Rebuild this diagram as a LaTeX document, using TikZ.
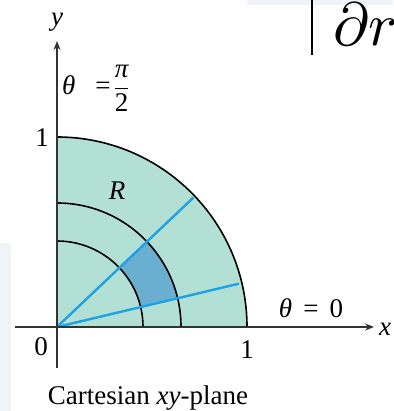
\documentclass[tikz,border=0pt]{standalone}
\usepackage{fontspec}
\setmainfont{Liberation Serif}
\usetikzlibrary{arrows.meta}
\definecolor{regfill}{HTML}{B3E0D4}
\definecolor{patchfill}{HTML}{6BAFD0}
\definecolor{rayblue}{HTML}{1DA2E6}
\definecolor{axisgray}{HTML}{333333}
\definecolor{bandgray}{HTML}{F0F3F7}
\tikzset{
  axisline/.style={draw=axisgray, line width=1.7pt, -{Stealth[length=9pt,width=7pt,inset=3pt]}},
  arcline/.style={draw=black, line width=1.6pt},
  ray/.style={draw=rayblue, line width=2.4pt},
  lbl/.style={font=\fontsize{27}{31}\selectfont, inner sep=0pt},
  ilbl/.style={font=\fontsize{27}{31}\selectfont\itshape, inner sep=0pt},
}
\begin{document}
\begin{tikzpicture}[x=1pt,y=1pt]
\useasboundingbox (0,0) rectangle (393,411);
% background fragments
\fill[bandgray] (0,0) rectangle (11,168);
\fill[bandgray] (247,406) rectangle (393,411);
\coordinate (bartop) at (312,411);
\coordinate (barbot) at (312,356);
\draw[line width=2pt] (bartop) -- (barbot);
\begin{scope}
\clip (0,0) rectangle (393,411);
\node[anchor=base west, inner sep=0pt, scale=6.1] (dr) at (332,365) {$\partial r$};
\end{scope}
% region
\begin{scope}[shift={(57,84)}]
\coordinate (O) at (0,0);
\fill[regfill] (O) -- (190,0) arc[start angle=0,end angle=90,radius=190] -- cycle;
\fill[patchfill] (13.4:86) arc[start angle=13.4,end angle=43.5,radius=86]
  -- (43.5:124) arc[start angle=43.5,end angle=13.4,radius=124] -- cycle;
\draw[arcline] (0,86) arc[start angle=90,end angle=0,radius=86];
\draw[arcline] (0,124) arc[start angle=90,end angle=0,radius=124];
\draw[arcline] (0,190) arc[start angle=90,end angle=0,radius=190];
\coordinate (r1) at (43.5:188);
\coordinate (r2) at (13.4:187);
\draw[ray] (O) -- (r1);
\draw[ray] (O) -- (r2);
\end{scope}
% axes
\coordinate (xs) at (15,84);
\coordinate (xe) at (374,84);
\coordinate (ys) at (57,43);
\coordinate (ye) at (57,370);
\draw[axisline] (xs) -- (xe);
\draw[axisline] (ys) -- (ye);
% labels
\node[ilbl] (ylab) at (57,389) {y};
\node[ilbl] (xlab) at (385,82) {x};
\node[lbl, anchor=west] (thtop) at (62,323) {\textit{θ}\hspace{20pt}=\hspace{3pt}$\displaystyle\frac{\mbox{\itshape π}}{\mbox{2}}$};
\node[lbl] (one_y) at (42,273) {1};
\node[ilbl] (R) at (117,220) {R};
\node[lbl] (zero) at (41,64) {0};
\node[lbl] (one_x) at (247,61) {1};
\node[lbl] (thzero) at (311,103) {\textit{θ} \,=\, 0};
\node[lbl] (cap) at (148,13) {Cartesian \textit{xy}-plane};
\end{tikzpicture}
\end{document}
